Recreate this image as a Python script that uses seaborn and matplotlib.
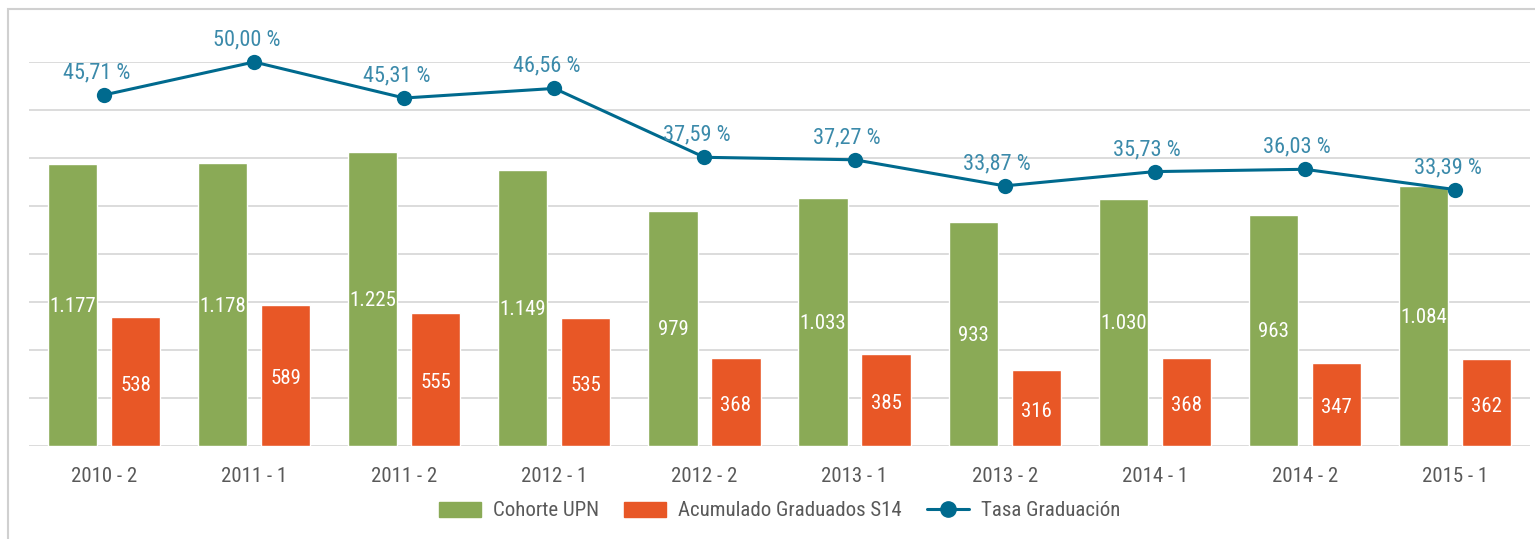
import numpy as np
import pandas as pd
import matplotlib.pyplot as plt
import seaborn as sns
from matplotlib import font_manager as fm
from matplotlib.patches import Rectangle

# data
periodos = ["2010 - 2", "2011 - 1", "2011 - 2", "2012 - 1", "2012 - 2",
            "2013 - 1", "2013 - 2", "2014 - 1", "2014 - 2", "2015 - 1"]
cohorte = [1177, 1178, 1225, 1149, 979, 1033, 933, 1030, 963, 1084]
graduados = [538, 589, 555, 535, 368, 385, 316, 368, 347, 362]
tasa = [45.71, 50.00, 45.31, 46.56, 37.59, 37.27, 33.87, 35.73, 36.03, 33.39]

green = "#8AAA56"
orange = "#E85726"
blue = "#006A8E"
label_blue = "#3B8AAA"
gray_txt = "#595959"

sns.set_theme(style="white")
# narrow font like Arial Narrow, if one is installed
available = {f.name for f in fm.fontManager.ttflist}
narrow = [n for n in ["Liberation Sans Narrow", "Arial Narrow", "Roboto Condensed",
                      "Archivo Narrow", "PT Sans Narrow"] if n in available]
plt.rcParams["font.family"] = narrow[:1] + ["Liberation Sans", "DejaVu Sans"]

df = pd.DataFrame({
    "Periodo": periodos * 2,
    "Valor": cohorte + graduados,
    "Serie": ["Cohorte UPN"] * len(periodos) + ["Acumulado Graduados S14"] * len(periodos),
})

fig = plt.figure(figsize=(15.35, 5.39), dpi=100)
ax = fig.add_axes([29 / 1535, 1 - 446 / 539, 1501 / 1535, 384 / 539])

sns.barplot(data=df, x="Periodo", y="Valor", hue="Serie",
            palette=[green, orange], width=0.84, gap=0.22,
            saturation=1, ax=ax, legend=False)

# rate line on a hidden second axis
ax2 = ax.twinx()
sns.lineplot(x=np.arange(len(periodos)), y=tasa, ax=ax2, color=blue,
             linewidth=2.2, marker="o", markersize=11, markeredgewidth=0, clip_on=False)
ax2.set_ylim(0, 50)
ax2.set_axis_off()

ax.set_ylim(0, 1600)
ax.set_yticks(np.arange(0, 1601, 200))
ax.set_xlim(-0.5, len(periodos) - 0.5)
ax.yaxis.grid(True, color="#D9D9D9", linewidth=1.3)
ax.set_axisbelow(True)
ax.tick_params(axis="y", left=False, right=False, labelleft=False, labelright=False)
ax.tick_params(axis="x", bottom=False, pad=9, labelsize=15, labelcolor=gray_txt)
ax.set_xlabel("")
ax.set_ylabel("")
for s in ax.spines.values():
    s.set_visible(False)

# bar labels
for i, (c, g) in enumerate(zip(cohorte, graduados)):
    ax.text(i - 0.21, c / 2 - 6, f"{c:,}".replace(",", "."), ha="center", va="center",
            color="white", fontsize=15)
    ax.text(i + 0.21, g / 2 - 15, f"{g}", ha="center", va="center",
            color="white", fontsize=15)

for i, t in enumerate(tasa):
    ax2.text(i - 0.05, t + 1.5, f"{t:.2f} %".replace(".", ","), ha="center", va="bottom",
             color=label_blue, fontsize=16, clip_on=False)

# legend
handles = [
    Rectangle((0, 0), 1, 1, color=green),
    Rectangle((0, 0), 1, 1, color=orange),
    plt.Line2D([], [], color=blue, linewidth=2.2, marker="o", markersize=11),
]
fig.legend(handles, ["Cohorte UPN", "Acumulado Graduados S14", "Tasa Graduación"],
           loc="center", bbox_to_anchor=(0.508, 1 - 511 / 539), ncol=3, frameon=False,
           fontsize=15, labelcolor=gray_txt, handlelength=2.0, columnspacing=1.2,
           handletextpad=0.6)

# chart border
fig.patches.append(Rectangle((8 / 1535, -0.1), 1.2, 1 - 9 / 539 + 0.1,
                             transform=fig.transFigure, fill=False,
                             edgecolor="#D0D0D0", linewidth=1.5))

fig.savefig("out.png", dpi=100)
